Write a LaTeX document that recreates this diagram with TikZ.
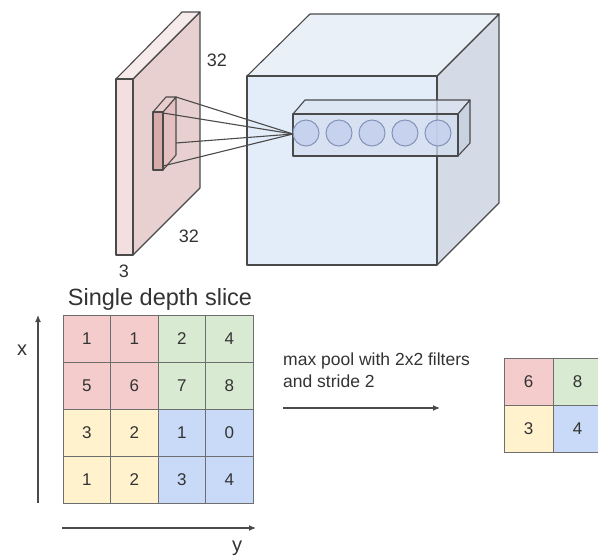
\documentclass[tikz,border=0pt]{standalone}
\usepackage{fontspec}
\setmainfont{Liberation Sans}
\usetikzlibrary{arrows.meta}
\definecolor{edgegray}{HTML}{4A4A4A}
\definecolor{textgray}{HTML}{333333}
\definecolor{slabfront}{HTML}{F3DFDF}
\definecolor{slabtop}{HTML}{F7EAEA}
\definecolor{slabside}{HTML}{E9D0D0}
\definecolor{boxfront}{HTML}{D8ABAB}
\definecolor{boxside}{HTML}{E4C0C0}
\definecolor{cubefront}{HTML}{E3ECF9}
\definecolor{cubetop}{HTML}{EAF0F8}
\definecolor{cubeside}{HTML}{D4DBE6}
\definecolor{colfront}{HTML}{D3DEF0}
\definecolor{coltop}{HTML}{DCE4F2}
\definecolor{colside}{HTML}{C6D0E0}
\definecolor{neuronfill}{HTML}{C4D0EE}
\definecolor{neuronline}{HTML}{8494B8}
\definecolor{pr}{HTML}{F4CCCC}
\definecolor{pg}{HTML}{D9EAD3}
\definecolor{py}{HTML}{FFF2CC}
\definecolor{pb}{HTML}{C9DAF8}

\begin{document}
\begin{tikzpicture}[x=1pt, y=-1pt,
    face/.style={draw=edgegray, line width=1.1pt, line join=round},
    cell/.style={draw=edgegray!80, line width=0.8pt, inner sep=0pt,
                 minimum width=47.5pt, minimum height=47pt,
                 font=\fontsize{17}{17}\selectfont, text=textgray},
    neuron/.style={circle, draw=neuronline, fill=neuronfill, fill opacity=0.8,
                   text opacity=1, line width=1pt, minimum size=26pt, inner sep=0pt},
    lbl/.style={font=\fontsize{18}{18}\selectfont, text=textgray, inner sep=0pt, anchor=base},
    arr/.style={-{Latex[length=7pt,width=6pt]}, line width=1.2pt, draw=edgegray}
  ]
    \clip (0,0) rectangle (598,557);
    % output volume
    \filldraw[face, fill=cubeside]  (437,76)--(499,14)--(499,203)--(437,265)--cycle;
    \filldraw[face, fill=cubetop]   (247,76)--(310,14)--(499,14)--(437,76)--cycle;
    \filldraw[face, fill=cubefront] (247,76) rectangle (437,265);
    % column of neurons
    \begin{scope}[fill opacity=0.75]
      \filldraw[face, fill=coltop]   (293,114)--(305,100)--(470,100)--(458,114)--cycle;
      \filldraw[face, fill=colside]  (458,114)--(470,100)--(470,143)--(458,156)--cycle;
      \filldraw[face, fill=colfront] (293,114) rectangle (458,156);
    \end{scope}
    \foreach \nx [count=\n] in {306,339,372,405,438}
      \node[neuron] (n\n) at (\nx,133) {};
    \coordinate (col) at (293,134);
    % input volume
    \filldraw[face, fill=slabside]  (133,79)--(200,12)--(200,188)--(133,255)--cycle;
    \filldraw[face, fill=slabtop]   (116,79)--(182,12)--(200,12)--(133,79)--cycle;
    \filldraw[face, fill=slabfront] (116,79) rectangle (133,255);
    % receptive field
    \filldraw[face, fill=boxside]  (163,112)--(176,97)--(176,155)--(163,170)--cycle;
    \filldraw[face, fill=boxside!80!white] (153,112)--(166,97)--(176,97)--(163,112)--cycle;
    \filldraw[face, fill=boxfront] (153,112) rectangle (163,170);
    \coordinate (r1) at (176,97);
    \coordinate (r2) at (163,113);
    \coordinate (r3) at (176,143);
    \coordinate (r4) at (163,166);
    \foreach \r in {r1,r2,r3,r4}
      \draw[edgegray, line width=1.1pt] (\r) -- (col);
    \node[lbl] (h32) at (217,66) {32};
    \node[lbl] (w32) at (189,242) {32};
    \node[lbl] (d3) at (124,277) {3};
    % single depth slice
    \node[lbl, font=\fontsize{23.5}{23.5}\selectfont] (slice) at (160,305) {Single depth slice};
    \foreach \v/\c [count=\k from 0] in {1/pr,1/pr,2/pg,4/pg,5/pr,6/pr,7/pg,8/pg,
                                          3/py,2/py,1/pb,0/pb,1/py,2/py,3/pb,4/pb}{
      \pgfmathtruncatemacro\i{div(\k,4)}
      \pgfmathtruncatemacro\j{mod(\k,4)}
      \node[cell, fill=\c] (s\i\j) at (86.75+47.5*\j, 338.5+47*\i) {\v};
    }
    \coordinate (xs) at (38,503);
    \coordinate (xe) at (38,315);
    \coordinate (ys) at (62,528);
    \coordinate (ye) at (256,528);
    \draw[arr] (xs) -- (xe);
    \draw[arr] (ys) -- (ye);
    \node[lbl, font=\fontsize{20}{20}\selectfont] (xl) at (22,355) {x};
    \node[lbl, font=\fontsize{20}{20}\selectfont] (yl) at (237,551) {y};
    % pooling
    \node[anchor=north west, align=left, inner sep=0pt, text=textgray,
          font=\fontsize{17.5}{22}\selectfont] (pool) at (283,353)
          {max pool with 2x2 filters\\and stride 2};
    \coordinate (ps) at (283,408);
    \coordinate (pe) at (440,408);
    \draw[arr] (ps) -- (pe);
    \foreach \v/\c [count=\k from 0] in {6/pr,8/pg,3/py,4/pb}{
      \pgfmathtruncatemacro\i{div(\k,2)}
      \pgfmathtruncatemacro\j{mod(\k,2)}
      \node[cell, fill=\c, minimum width=49pt] (o\i\j) at (528.5+49*\j, 381.5+47*\i) {\v};
    }
  \end{tikzpicture}
\end{document}
